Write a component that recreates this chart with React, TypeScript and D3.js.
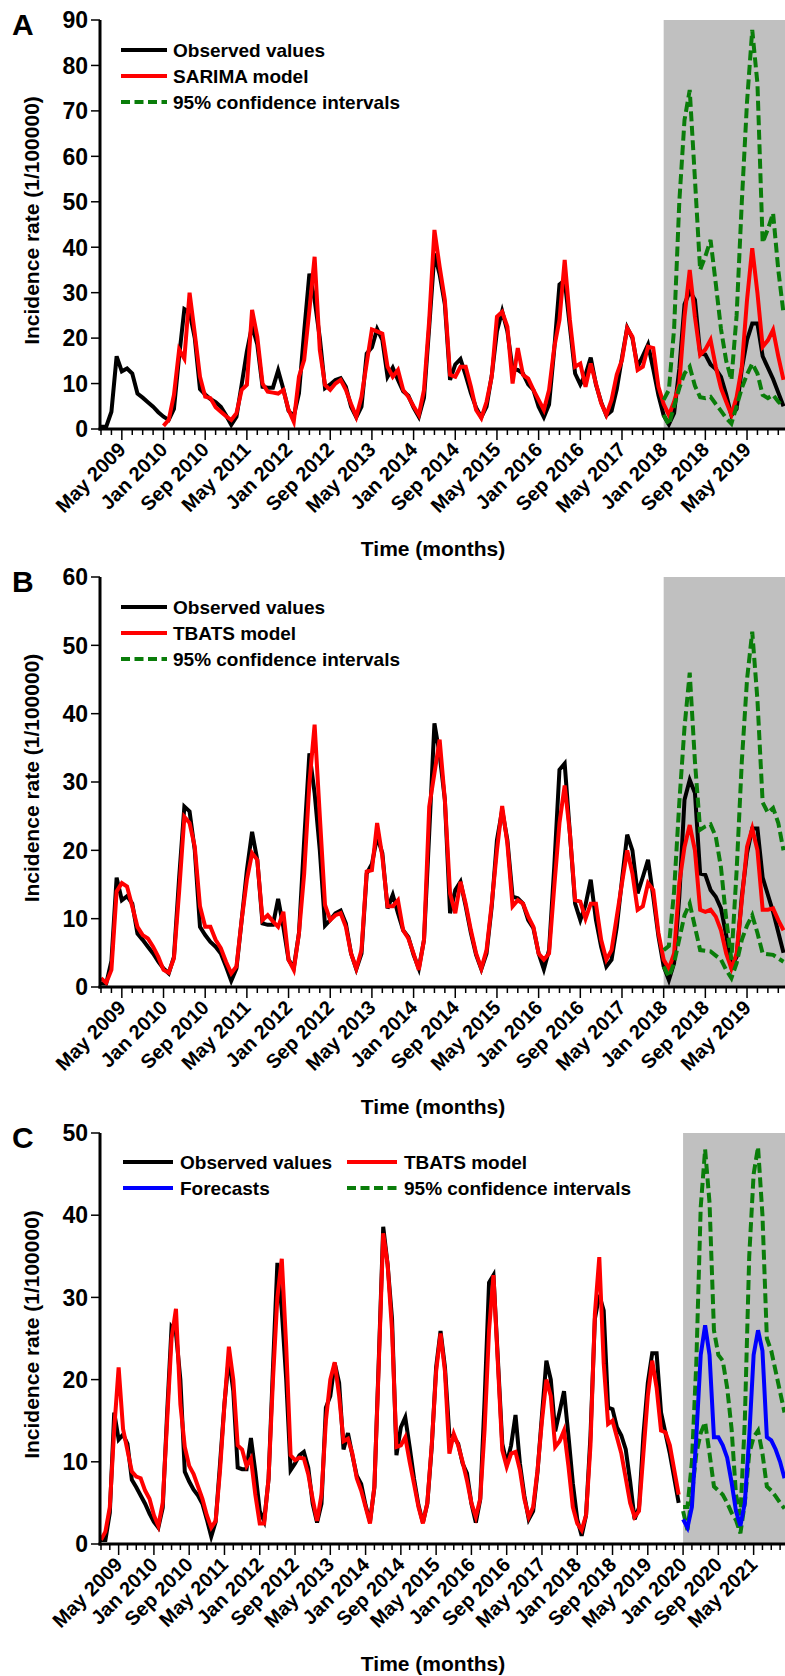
import React from 'react';
import * as d3 from 'd3';

// monthly incidence, Jan 2009 .. Dec 2019
const observed = [
  0.5, 0.5, 3.8, 16, 12.7, 13.3, 12.2, 7.8, 6.9, 5.9, 4.9, 3.7,
  2.7, 2.0, 4.4, 16, 26.4, 25.7, 20, 8.8, 7.6, 6.6, 5.9, 4.9,
  3.0, 0.9, 2.7, 9.8, 17.1, 22.7, 18.6, 9.3, 9.1, 9.1, 12.9, 8.8,
  4.0, 2.8, 7.9, 21.5, 34.2, 28.4, 20, 9, 9.8, 10.8, 11.2, 9.3,
  4.9, 2.6, 4.9, 16.6, 18, 22, 19.6, 11.5, 13.5, 10.8, 8.3, 7.3,
  4.7, 2.7, 6.9, 22.5, 38.6, 34, 27.4, 10.8, 14.2, 15.4, 11.8, 7.9,
  4.7, 2.6, 4.9, 11.8, 21.5, 25.9, 21.5, 13.2, 13.0, 12.2, 9.8, 8.6,
  4.9, 2.6, 5.4, 17.6, 31.8, 32.7, 22.5, 12.2, 9.8, 12, 15.7, 9.8,
  5.9, 3.0, 4.0, 8.8, 15.7, 22.3, 20, 13.7, 16.1, 18.6, 13.2, 7.4,
  3.0, 1.0, 3.5, 13.2, 27.4, 30.3, 28.4, 16.6, 16.4, 14.2, 13.2, 11.5,
  7.6, 3.0, 4.4, 13.2, 19.6, 23.2, 23.2, 16, 13.5, 11, 8, 5,
];

// SARIMA fit + forecast, Jan 2010 .. Dec 2019
const sarimaModel = [
  0.7, 2.0, 7.5, 17.5, 15.5, 30, 21, 11.5, 7.1, 6.8, 4.8, 3.8,
  2.8, 2.0, 3.5, 8.6, 9.7, 26.2, 20.3, 10, 8.2, 8.0, 7.8, 8.6,
  4.2, 1.6, 11.5, 15.2, 26.2, 37.9, 17.4, 9.7, 8.6, 10, 10.8, 8.6,
  5.5, 2.7, 7.1, 14.5, 21.9, 21.5, 21, 13.7, 11.5, 13, 8.6, 7.1,
  5, 3.1, 8.6, 24, 43.8, 35.7, 28.4, 11.9, 11.5, 13.7, 13.7, 9.3,
  4.2, 2.4, 6, 11.5, 24.7, 25.8, 22.5, 10, 17.8, 11.9, 11.1, 8.6,
  6.4, 4.2, 8.6, 18, 24, 37.2, 24, 13.7, 14.4, 9.3, 14.4, 10,
  5.7, 3.1, 6.4, 12, 15.2, 22.2, 20.3, 13, 13.7, 18.1, 17.8, 9.3,
  5.5, 3.1, 6, 10, 24.7, 35, 24.7, 16.3, 17.5, 19.6, 13.7, 9,
  6, 3.1, 7, 13.7, 28.4, 39.8, 29.9, 18.1, 19.5, 21.8, 16, 10.8,
];
// Jan 2018 .. Dec 2019
const sarimaUpper = [6.4, 8.6, 22, 50, 68, 74.6, 55, 35, 38, 41.6, 32, 22, 15, 10.8, 25, 50, 72, 87.8, 76, 41, 44, 47.5, 35, 25.5];
const sarimaLower = [3.1, 0.9, 5, 9, 12.2, 13.7, 9.5, 7, 6.8, 7.1, 5.5, 4, 2.4, 1.2, 5, 9, 12, 14.4, 12.2, 7.5, 6.8, 7.5, 6, 4.9];

// TBATS fit (2009-2017) + forecast (2018-2019)
const tbatsModel = [
  1.3, 0.6, 2.5, 14, 15.2, 14.7, 11.8, 8.8, 7.6, 7.1, 5.9, 4.4,
  2.5, 2.1, 4.2, 14, 24.9, 24, 20.5, 11.8, 8.8, 8.8, 6.9, 5.7,
  3.7, 2.0, 3.0, 9.8, 15.7, 19.6, 18.6, 9.8, 10.5, 9.6, 8.8, 11.0,
  4.0, 2.5, 7.9, 16.6, 29.8, 38.4, 25, 12, 9.8, 10.5, 10.8, 8.8,
  4.9, 2.7, 5.4, 16.9, 17.1, 24.0, 19.1, 11.8, 11.8, 12.7, 8.3, 7.1,
  4.9, 2.5, 6.9, 26.4, 31.3, 36.2, 27.4, 13.7, 10.8, 15.4, 12.2, 8.3,
  4.9, 2.7, 5.4, 12.2, 20, 26.5, 21, 11.8, 12.7, 12.2, 10.3, 8.8,
  4.9, 4.0, 4.9, 14.7, 24, 29.5, 22.5, 12.7, 12.5, 10.0, 12.2, 12.2,
  6.9, 4.0, 5.4, 10.3, 15.2, 20, 16.6, 11.3, 11.8, 15.2, 14.2, 7.9,
  4.0, 2.7, 4.9, 15.2, 20.5, 23.7, 20, 11.3, 11.0, 11.3, 10.3, 8.3,
  4.9, 2.7, 4.9, 12.7, 20.5, 23.2, 20, 11.3, 11.3, 11.5, 9.8, 8.3,
];
const tbatsUpper = [5.4, 6, 14, 27, 38, 46, 33, 23, 23.5, 23.8, 22, 17.5, 10, 4, 17, 33, 45, 52, 42, 27, 25.5, 26.2, 24, 20];
const tbatsLower = [3.0, 1.5, 3.5, 7, 10.5, 12.2, 8.8, 5.4, 5.3, 5.2, 4.6, 4, 2.5, 1.3, 3.5, 6.9, 9, 10.5, 7.9, 4.9, 4.8, 4.7, 4.2, 3.7];

// TBATS fit on full series 2009-2019
const tbatsFull = [
  0.5, 1.5, 4.5, 14, 21.5, 14, 11.4, 8.8, 8.2, 8.0, 6.5, 5.5,
  3.5, 2.2, 5, 15, 25, 28.6, 17, 11.8, 9.5, 8.5, 7, 5.5,
  3.5, 2.0, 2.8, 9, 17, 24, 20, 12, 11.5, 9.5, 10.4, 6,
  2.5, 2.5, 8, 20, 30, 34.7, 24, 10.8, 10.2, 10.5, 10.4, 8.5,
  5.5, 2.8, 6, 15, 20, 22.1, 18, 12.5, 12.8, 11, 8, 6.5,
  4.5, 2.5, 7, 22, 37.8, 34, 26, 11.8, 12, 13, 10, 7.3,
  4.5, 2.5, 5, 12, 21, 25.6, 21, 11, 13.4, 12, 10, 7.7,
  5, 3.3, 5.5, 14, 26, 32.7, 22, 11.4, 9.4, 11, 11.2, 9,
  5.5, 3.3, 4.5, 9, 15, 20, 18, 11.8, 12.5, 13.8, 9.5, 4.5,
  2.5, 1.7, 3.5, 12, 28, 34.9, 22, 14.6, 15, 13, 11, 8,
  5, 3.3, 4, 11, 18, 22.3, 19, 13.8, 13.6, 12, 9, 6,
];
// Jan 2020 .. Dec 2021
const forecasts = [3, 2, 4.5, 13, 23, 26.6, 23, 13, 13, 12, 10.5, 7.5, 4, 2.2, 5, 13, 23, 26, 23.5, 13, 12.6, 11.5, 10, 8];
const forecastUpper = [4.5, 4.5, 10, 22, 41, 48, 41.5, 26, 23, 22.3, 19, 14, 6, 3.5, 15, 35, 45, 48.3, 40, 25, 23.5, 21, 18.5, 16];
const forecastLower = [4, 1.7, 6, 11, 13.5, 14.8, 11, 7, 6.5, 6, 5, 3.8, 2.9, 1.3, 5, 11, 13, 13.8, 11, 7, 6.5, 5.8, 5, 4.3];

const tickLabelsAB = ['May 2009', 'Jan 2010', 'Sep 2010', 'May 2011', 'Jan 2012', 'Sep 2012', 'May 2013', 'Jan 2014',
  'Sep 2014', 'May 2015', 'Jan 2016', 'Sep 2016', 'May 2017', 'Jan 2018', 'Sep 2018', 'May 2019'];
const tickLabelsC = [...tickLabelsAB, 'Jan 2020', 'Sep 2020', 'May 2021'];
const yTicksA = [0, 10, 20, 30, 40, 50, 60, 70, 80, 90];
const yTicksB = [0, 10, 20, 30, 40, 50, 60];
const yTicksC = [0, 10, 20, 30, 40, 50];

const FONT = '"Liberation Sans", Arial, sans-serif';
const GREEN = '#0a7d0a';

type Series = { values: number[]; start: number; color: string; dashed?: boolean };
type LegendItem = { label: string; color: string; dashed?: boolean; x: number; y: number };

function Panel(props: {
  letter: string; top: number; bottom: number; yMax: number; yTicks: number[];
  lastMonth: number; right: number; shadeFrom: number; labels: string[];
  series: Series[]; legend: LegendItem[]; lineLen: number; textGap: number;
}) {
  const { top, bottom, yMax, lastMonth, right, shadeFrom } = props;
  const x = d3.scaleLinear().domain([0, lastMonth]).range([101, right]);
  const y = d3.scaleLinear().domain([0, yMax]).range([bottom, top]);
  const line = (s: Series) => d3.line<number>().x((d, i) => x(i + s.start)).y(d => y(d))(s.values) || '';
  const minor = d3.range(0, lastMonth + 2, 2);

  return (
    <g>
      <text x={12} y={top + 15} fontFamily={FONT} fontWeight="bold" fontSize={30}>{props.letter}</text>
      <rect x={x(shadeFrom)} y={top} width={785 - x(shadeFrom)} height={bottom - top} fill="#c0c0c0" />
      {props.series.map((s, k) => (
        <path key={k} d={line(s)} fill="none" stroke={s.color} strokeWidth={4}
          strokeDasharray={s.dashed ? '10,4.5' : undefined} />
      ))}
      {/* y axis */}
      <line x1={100} x2={100} y1={top} y2={bottom + 1.5} stroke="#000" strokeWidth={3} />
      {props.yTicks.map(t => (
        <g key={t}>
          <line x1={91} x2={100} y1={y(t)} y2={y(t)} stroke="#000" strokeWidth={1.5} />
          <text x={88} y={y(t)} dy="0.36em" textAnchor="end" fontFamily={FONT} fontWeight="bold" fontSize={23}>{t}</text>
        </g>
      ))}
      <text transform={`translate(32,${(top + bottom) / 2 - 4}) rotate(-90)`} textAnchor="middle" dy="0.35em"
        fontFamily={FONT} fontWeight="bold" fontSize={21}>Incidence rate (1/100000)</text>
      {/* x axis */}
      <line x1={98.5} x2={785} y1={bottom} y2={bottom} stroke="#000" strokeWidth={3} />
      {minor.map(m => (
        <line key={m} x1={x(m)} x2={x(m)} y1={bottom} y2={bottom + ((m - 4) % 8 === 0 ? 11 : 6)}
          stroke="#000" strokeWidth={1.5} />
      ))}
      {props.labels.map((l, k) => {
        const m = 4 + 8 * k;
        return (
          <text key={l} transform={`translate(${x(m) + 5},${bottom + 22}) rotate(-45)`} textAnchor="end"
            fontFamily={FONT} fontWeight="bold" fontSize={20}>{l}</text>
        );
      })}
      <text x={433} y={bottom + 120} dy="0.35em" textAnchor="middle" fontFamily={FONT} fontWeight="bold" fontSize={21}>
        Time (months)
      </text>
      {props.legend.map(it => (
        <g key={it.label}>
          <line x1={it.x} x2={it.x + props.lineLen} y1={it.y} y2={it.y} stroke={it.color} strokeWidth={4}
            strokeDasharray={it.dashed ? '9,4.5' : undefined} />
          <text x={it.x + props.lineLen + props.textGap} y={it.y} dy="0.36em" fontFamily={FONT} fontWeight="bold"
            fontSize={19}>{it.label}</text>
        </g>
      ))}
    </g>
  );
}

export default function App() {
  return (
    <svg width={785} height={1676} style={{ position: 'absolute', left: 0, top: 0, background: '#fff' }}>
      <Panel letter="A" top={20} bottom={429} yMax={90} yTicks={yTicksA} lastMonth={131} right={783.5}
        shadeFrom={108} labels={tickLabelsAB} lineLen={46} textGap={6}
        series={[
          { values: observed, start: 0, color: '#000' },
          { values: sarimaModel, start: 12, color: '#ff0000' },
          { values: sarimaUpper, start: 108, color: GREEN, dashed: true },
          { values: sarimaLower, start: 108, color: GREEN, dashed: true },
        ]}
        legend={[
          { label: 'Observed values', color: '#000', x: 121, y: 50 },
          { label: 'SARIMA model', color: '#ff0000', x: 121, y: 76 },
          { label: '95% confidence intervals', color: GREEN, dashed: true, x: 121, y: 102 },
        ]} />
      <Panel letter="B" top={577} bottom={987} yMax={60} yTicks={yTicksB} lastMonth={131} right={783.5}
        shadeFrom={108} labels={tickLabelsAB} lineLen={46} textGap={6}
        series={[
          { values: observed, start: 0, color: '#000' },
          { values: tbatsModel, start: 0, color: '#ff0000' },
          { values: tbatsUpper, start: 108, color: GREEN, dashed: true },
          { values: tbatsLower, start: 108, color: GREEN, dashed: true },
        ]}
        legend={[
          { label: 'Observed values', color: '#000', x: 121, y: 607 },
          { label: 'TBATS model', color: '#ff0000', x: 121, y: 633 },
          { label: '95% confidence intervals', color: GREEN, dashed: true, x: 121, y: 659 },
        ]} />
      <Panel letter="C" top={1133} bottom={1544} yMax={50} yTicks={yTicksC} lastMonth={155} right={784.5}
        shadeFrom={132} labels={tickLabelsC} lineLen={50} textGap={7}
        series={[
          { values: observed, start: 0, color: '#000' },
          { values: tbatsFull, start: 0, color: '#ff0000' },
          { values: forecastUpper, start: 132, color: GREEN, dashed: true },
          { values: forecastLower, start: 132, color: GREEN, dashed: true },
          { values: forecasts, start: 132, color: '#0000ff' },
        ]}
        legend={[
          { label: 'Observed values', color: '#000', x: 123, y: 1162 },
          { label: 'TBATS model', color: '#ff0000', x: 347, y: 1162 },
          { label: 'Forecasts', color: '#0000ff', x: 123, y: 1188 },
          { label: '95% confidence intervals', color: GREEN, dashed: true, x: 347, y: 1188 },
        ]} />
    </svg>
  );
}
